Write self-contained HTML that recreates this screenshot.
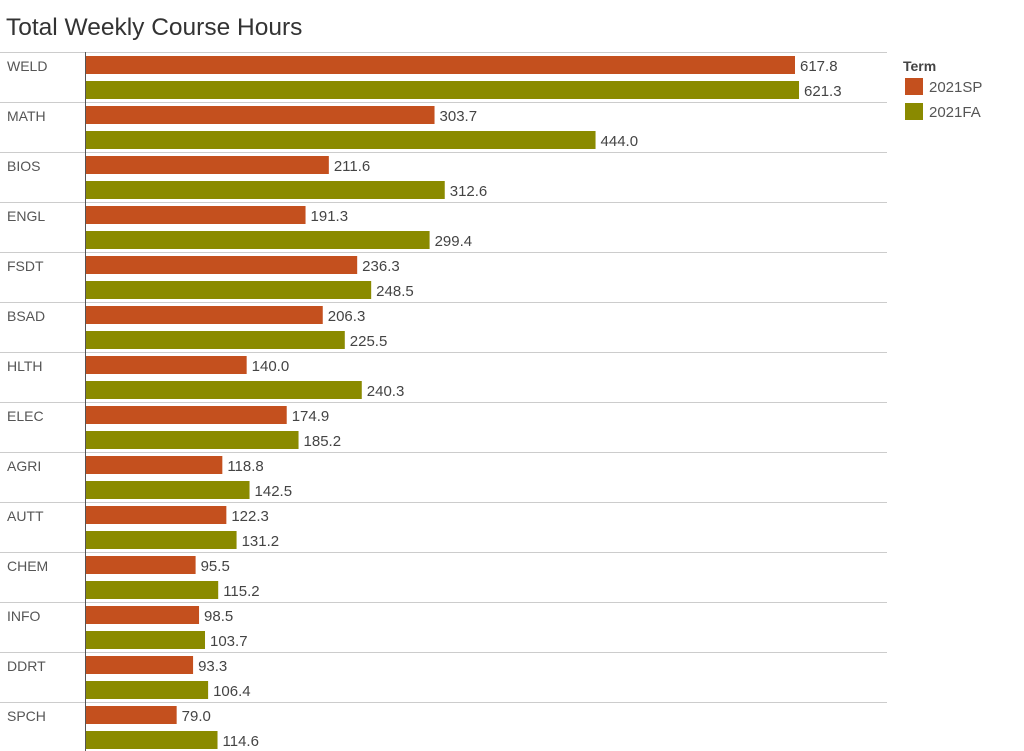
<!DOCTYPE html>
<html><head><meta charset="utf-8"><style>
body{margin:0;background:#fff;font-family:"Liberation Sans",sans-serif;}
svg{display:block}
</style></head><body>
<svg id="c" width="1024" height="751">
<text x="6" y="35" font-size="24.5" fill="#333">Total Weekly Course Hours</text>
<g>
<text x="903" y="71" font-size="14" font-weight="bold" fill="#444">Term</text>
<rect x="905" y="78" width="18" height="17" fill="#c4501e"/>
<text x="929" y="92" font-size="15" fill="#555">2021SP</text>
<rect x="905" y="103" width="18" height="17" fill="#8a8a00"/>
<text x="929" y="117" font-size="15" fill="#555">2021FA</text>
</g>
</svg>
<script>
const categories=["WELD","MATH","BIOS","ENGL","FSDT","BSAD","HLTH","ELEC","AGRI","AUTT","CHEM","INFO","DDRT","SPCH"];
const sp=[617.8,303.7,211.6,191.3,236.3,206.3,140.0,174.9,118.8,122.3,95.5,98.5,93.3,79.0];
const fa=[621.3,444.0,312.6,299.4,248.5,225.5,240.3,185.2,142.5,131.2,115.2,103.7,106.4,114.6];
const svgEl=document.getElementById('c');
const NS='http://www.w3.org/2000/svg';
const x0=86, scale=709/617.8, plotTop=52, band=50;
const xs=v=>v*scale;
function mk(t,a){const e=document.createElementNS(NS,t);for(const k in a)e.setAttribute(k,a[k]);svgEl.appendChild(e);return e;}
categories.forEach((c,i)=>{
  const y=plotTop+i*band;
  const ln=mk('line',{x1:0,x2:887,y1:y+0.5,y2:y+0.5,stroke:'#ccc','stroke-width':1});
  
  
  const lb=mk('text',{x:7,y:y+19,'font-size':14,fill:'#555'});lb.textContent=c;
  
  
  [[sp[i],'#c4501e',4,'2021sp'],[fa[i],'#8a8a00',29,'2021fa']].forEach(([v,col,off,s])=>{
    const b=mk('rect',{x:x0,y:y+off,width:xs(v),height:18,fill:col});
    
    
    const t=mk('text',{x:x0+xs(v)+5,y:y+off+15,'font-size':15,fill:'#444'});t.textContent=v.toFixed(1);
    
    
  });
});
const ax=mk('line',{x1:x0-0.5,x2:x0-0.5,y1:plotTop,y2:751,stroke:'#555','stroke-width':1});


</script>
</body></html>
